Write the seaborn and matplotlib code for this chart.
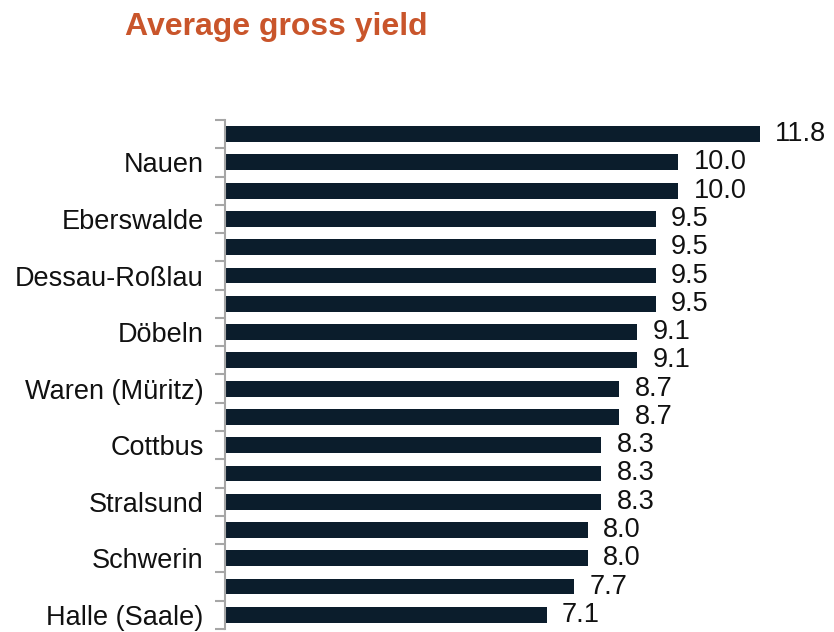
import matplotlib
matplotlib.use("Agg")
import matplotlib.pyplot as plt
import numpy as np
import pandas as pd
import seaborn as sns

# Bars from top to bottom; only every other bar carries a city label
cities = [
    "", "Nauen", "", "Eberswalde", "", "Dessau-Roßlau", "", "Döbeln", "",
    "Waren (Müritz)", "", "Cottbus", "", "Stralsund", "", "Schwerin", "",
    "Halle (Saale)",
]
yields = [11.8, 10.0, 10.0, 9.5, 9.5, 9.5, 9.5, 9.1, 9.1,
          8.7, 8.7, 8.3, 8.3, 8.3, 8.0, 8.0, 7.7, 7.1]

BAR_COLOR = "#0b1d2c"
TITLE_COLOR = "#c9552b"
AXIS_COLOR = "#a6a6a6"

sns.set_style("white")
plt.rcParams["font.family"] = ["Liberation Sans", "DejaVu Sans"]

df = pd.DataFrame({"pos": np.arange(len(yields)), "yield": yields})

fig = plt.figure(figsize=(8.34, 6.32), dpi=100)
ax = fig.add_axes([0.2692, 0.00475, 0.7074, 0.8054])

sns.barplot(data=df, x="yield", y="pos", orient="h", color=BAR_COLOR,
            saturation=1, width=0.56, edgecolor="none", ax=ax)

ax.bar_label(ax.containers[0], fmt="%.1f", padding=11, fontsize=19.5,
             color="#111111")

ax.set_xlim(0, 13)
ax.set_ylim(len(yields) - 0.5, -0.5)
ax.set_xlabel("")
ax.set_ylabel("")
ax.set_xticks([])

# boundary ticks without labels, city names on the bar centres
ax.set_yticks(np.arange(-0.5, len(yields)), labels=[])
label_pos = [i for i, c in enumerate(cities) if c]
ax.set_yticks(label_pos, labels=[cities[i] for i in label_pos], minor=True)
ax.tick_params(axis="y", which="major", left=True, length=7, width=1.5,
               color=AXIS_COLOR, direction="out")
ax.tick_params(axis="y", which="minor", left=True, length=0, pad=15,
               labelsize=19.5, labelcolor="#111111")

for side in ["top", "right", "bottom"]:
    ax.spines[side].set_visible(False)
ax.spines["left"].set_color(AXIS_COLOR)
ax.spines["left"].set_linewidth(1.5)

fig.text(125 / 834, 1 - 27 / 632, "Average gross yield", fontsize=23,
         fontweight="bold", color=TITLE_COLOR, va="center", ha="left")

fig.savefig("out.png", dpi=100)
